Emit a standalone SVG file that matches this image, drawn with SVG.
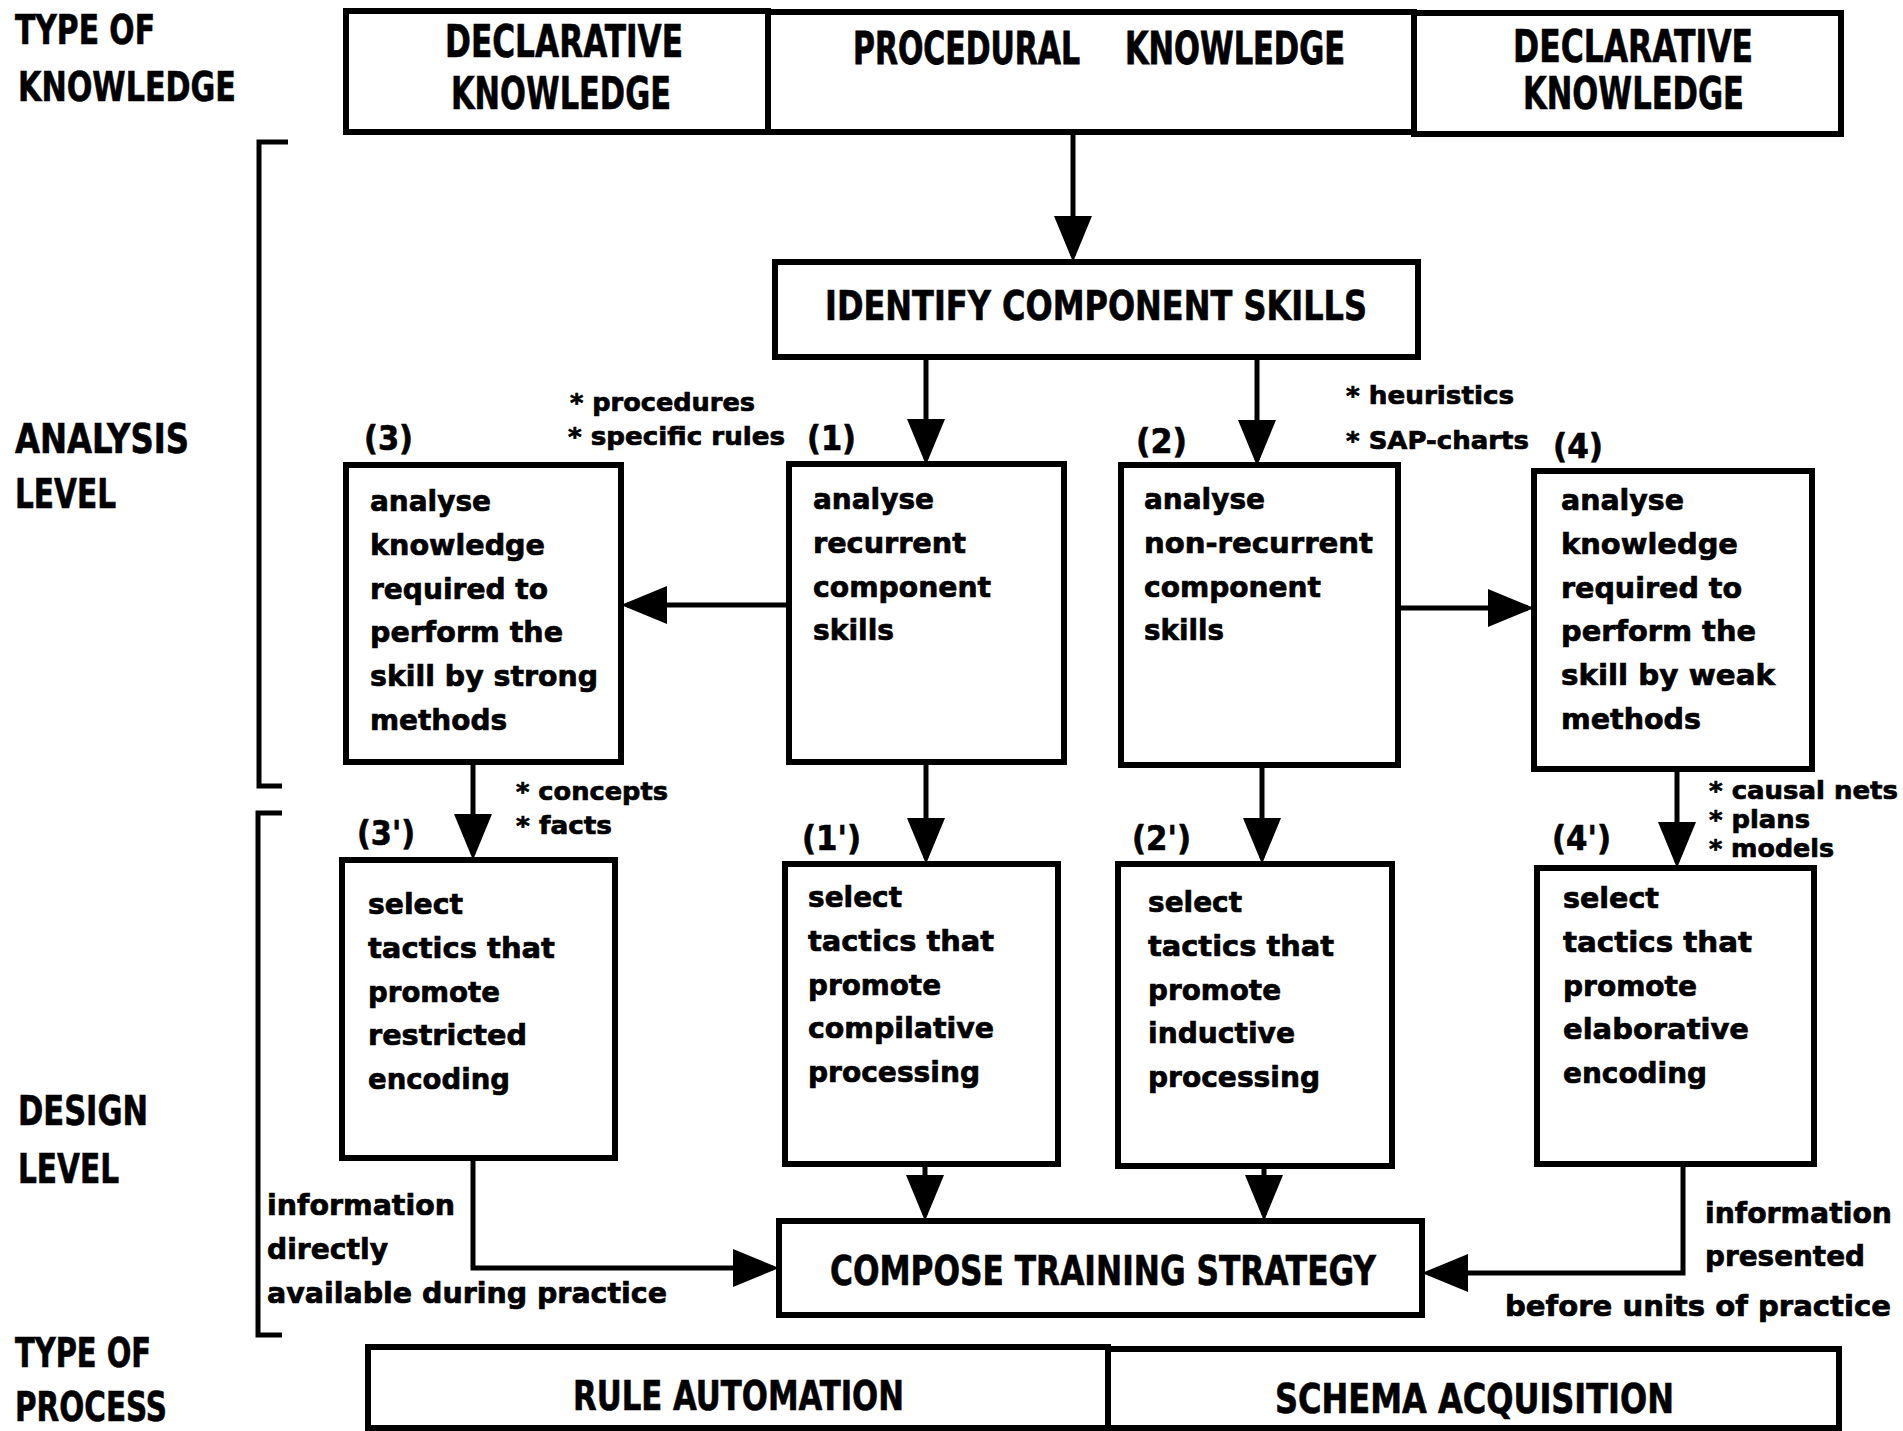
<svg xmlns="http://www.w3.org/2000/svg" width="1903" height="1431" viewBox="0 0 1903 1431">
<style>
.cap{font-family:"DejaVu Sans Condensed","DejaVu Sans","Liberation Sans",sans-serif;font-weight:bold;font-size:40px;fill:#000;stroke:#000;stroke-width:0.6}
.hdr{font-size:44px}
.hdr2{font-size:33px}
.par{font-size:34px}
.txt{font-family:"DejaVu Sans","Liberation Sans",sans-serif;font-weight:bold;font-size:29px;fill:#000;stroke:#000;stroke-width:0.7}
.lbl{font-size:25px}
.box{fill:#fff;stroke:#000;stroke-width:6}
.edge{fill:none;stroke:#000;stroke-width:5}
.brk{fill:none;stroke:#000;stroke-width:5}
</style>
<defs>
<marker id="ah" viewBox="0 0 46 38" markerWidth="46" markerHeight="38" markerUnits="userSpaceOnUse" refX="40" refY="19" orient="auto">
<path d="M0,0 L46,19 L0,38 Z" fill="#000"/>
</marker>
</defs>
<rect width="1903" height="1431" fill="#fff"/>

<g id="side-labels">
<text class="cap" x="15" y="44" textLength="140" lengthAdjust="spacingAndGlyphs">TYPE OF</text>
<text class="cap" x="18" y="101" textLength="218" lengthAdjust="spacingAndGlyphs">KNOWLEDGE</text>
<text class="cap" x="15" y="453" textLength="174" lengthAdjust="spacingAndGlyphs">ANALYSIS</text>
<text class="cap" x="15" y="508" textLength="101" lengthAdjust="spacingAndGlyphs">LEVEL</text>
<text class="cap" x="18" y="1125" textLength="130" lengthAdjust="spacingAndGlyphs">DESIGN</text>
<text class="cap" x="18" y="1183" textLength="101" lengthAdjust="spacingAndGlyphs">LEVEL</text>
<text class="cap" x="15" y="1367" textLength="136" lengthAdjust="spacingAndGlyphs">TYPE OF</text>
<text class="cap" x="15" y="1421" textLength="152" lengthAdjust="spacingAndGlyphs">PROCESS</text>
</g>

<g id="brackets">
<path class="brk" d="M288,142 H259 V786 H282"/>
<path class="brk" d="M282,813 H258 V1335 H282"/>
</g>

<g id="hdr-declarative-left">
<rect class="box" x="346" y="11" width="422" height="121"/>
<text class="cap hdr" x="445" y="57" textLength="238" lengthAdjust="spacingAndGlyphs">DECLARATIVE</text>
<text class="cap hdr" x="451" y="109" textLength="220" lengthAdjust="spacingAndGlyphs">KNOWLEDGE</text>
</g>
<g id="hdr-procedural">
<rect class="box" x="768" y="12" width="646" height="120"/>
<text class="cap hdr2" transform="translate(853,64) scale(1,1.33)" x="0" y="0" textLength="227" lengthAdjust="spacingAndGlyphs">PROCEDURAL</text>
<text class="cap hdr2" transform="translate(1125,64) scale(1,1.33)" x="0" y="0" textLength="220" lengthAdjust="spacingAndGlyphs">KNOWLEDGE</text>
</g>
<g id="hdr-declarative-right">
<rect class="box" x="1414" y="13" width="427" height="121"/>
<text class="cap hdr" x="1513" y="62" textLength="240" lengthAdjust="spacingAndGlyphs">DECLARATIVE</text>
<text class="cap hdr" x="1523" y="109" textLength="221" lengthAdjust="spacingAndGlyphs">KNOWLEDGE</text>
</g>

<g id="identify">
<rect class="box" x="775" y="262" width="643" height="95"/>
<text class="cap" x="825" y="320" textLength="542" lengthAdjust="spacingAndGlyphs">IDENTIFY COMPONENT SKILLS</text>
</g>

<g id="node3">
<rect class="box" x="346" y="465" width="275" height="297"/>
<text class="txt" x="370" y="511" textLength="121" lengthAdjust="spacingAndGlyphs">analyse</text>
<text class="txt" x="370" y="555" textLength="175" lengthAdjust="spacingAndGlyphs">knowledge</text>
<text class="txt" x="370" y="599" textLength="178" lengthAdjust="spacingAndGlyphs">required to</text>
<text class="txt" x="370" y="642" textLength="193" lengthAdjust="spacingAndGlyphs">perform the</text>
<text class="txt" x="370" y="686" textLength="228" lengthAdjust="spacingAndGlyphs">skill by strong</text>
<text class="txt" x="370" y="730" textLength="137" lengthAdjust="spacingAndGlyphs">methods</text>
</g>
<g id="node1">
<rect class="box" x="789" y="464" width="275" height="298"/>
<text class="txt" x="813" y="509" textLength="121" lengthAdjust="spacingAndGlyphs">analyse</text>
<text class="txt" x="813" y="553" textLength="153" lengthAdjust="spacingAndGlyphs">recurrent</text>
<text class="txt" x="813" y="597" textLength="178" lengthAdjust="spacingAndGlyphs">component</text>
<text class="txt" x="813" y="640" textLength="81" lengthAdjust="spacingAndGlyphs">skills</text>
</g>
<g id="node2">
<rect class="box" x="1121" y="465" width="277" height="300"/>
<text class="txt" x="1144" y="509" textLength="121" lengthAdjust="spacingAndGlyphs">analyse</text>
<text class="txt" x="1144" y="553" textLength="229" lengthAdjust="spacingAndGlyphs">non-recurrent</text>
<text class="txt" x="1144" y="597" textLength="177" lengthAdjust="spacingAndGlyphs">component</text>
<text class="txt" x="1144" y="640" textLength="80" lengthAdjust="spacingAndGlyphs">skills</text>
</g>
<g id="node4">
<rect class="box" x="1534" y="471" width="278" height="298"/>
<text class="txt" x="1561" y="510" textLength="123" lengthAdjust="spacingAndGlyphs">analyse</text>
<text class="txt" x="1561" y="554" textLength="177" lengthAdjust="spacingAndGlyphs">knowledge</text>
<text class="txt" x="1561" y="598" textLength="181" lengthAdjust="spacingAndGlyphs">required to</text>
<text class="txt" x="1561" y="641" textLength="195" lengthAdjust="spacingAndGlyphs">perform the</text>
<text class="txt" x="1561" y="685" textLength="214" lengthAdjust="spacingAndGlyphs">skill by weak</text>
<text class="txt" x="1561" y="729" textLength="140" lengthAdjust="spacingAndGlyphs">methods</text>
</g>

<g id="node3p">
<rect class="box" x="342" y="860" width="273" height="298"/>
<text class="txt" x="368" y="914" textLength="95" lengthAdjust="spacingAndGlyphs">select</text>
<text class="txt" x="368" y="958" textLength="187" lengthAdjust="spacingAndGlyphs">tactics that</text>
<text class="txt" x="368" y="1002" textLength="132" lengthAdjust="spacingAndGlyphs">promote</text>
<text class="txt" x="368" y="1045" textLength="159" lengthAdjust="spacingAndGlyphs">restricted</text>
<text class="txt" x="368" y="1089" textLength="142" lengthAdjust="spacingAndGlyphs">encoding</text>
</g>
<g id="node1p">
<rect class="box" x="785" y="864" width="273" height="300"/>
<text class="txt" x="808" y="907" textLength="94" lengthAdjust="spacingAndGlyphs">select</text>
<text class="txt" x="808" y="951" textLength="186" lengthAdjust="spacingAndGlyphs">tactics that</text>
<text class="txt" x="808" y="995" textLength="133" lengthAdjust="spacingAndGlyphs">promote</text>
<text class="txt" x="808" y="1038" textLength="186" lengthAdjust="spacingAndGlyphs">compilative</text>
<text class="txt" x="808" y="1082" textLength="172" lengthAdjust="spacingAndGlyphs">processing</text>
</g>
<g id="node2p">
<rect class="box" x="1118" y="864" width="274" height="302"/>
<text class="txt" x="1148" y="912" textLength="94" lengthAdjust="spacingAndGlyphs">select</text>
<text class="txt" x="1148" y="956" textLength="186" lengthAdjust="spacingAndGlyphs">tactics that</text>
<text class="txt" x="1148" y="1000" textLength="133" lengthAdjust="spacingAndGlyphs">promote</text>
<text class="txt" x="1148" y="1043" textLength="147" lengthAdjust="spacingAndGlyphs">inductive</text>
<text class="txt" x="1148" y="1087" textLength="172" lengthAdjust="spacingAndGlyphs">processing</text>
</g>
<g id="node4p">
<rect class="box" x="1537" y="868" width="277" height="296"/>
<text class="txt" x="1563" y="908" textLength="96" lengthAdjust="spacingAndGlyphs">select</text>
<text class="txt" x="1563" y="952" textLength="189" lengthAdjust="spacingAndGlyphs">tactics that</text>
<text class="txt" x="1563" y="996" textLength="134" lengthAdjust="spacingAndGlyphs">promote</text>
<text class="txt" x="1563" y="1039" textLength="186" lengthAdjust="spacingAndGlyphs">elaborative</text>
<text class="txt" x="1563" y="1083" textLength="144" lengthAdjust="spacingAndGlyphs">encoding</text>
</g>

<g id="compose">
<rect class="box" x="779" y="1221" width="643" height="94"/>
<text class="cap" x="830" y="1285" textLength="546" lengthAdjust="spacingAndGlyphs">COMPOSE TRAINING STRATEGY</text>
</g>

<g id="proc-rule">
<rect class="box" x="368" y="1347" width="740" height="81"/>
<text class="cap" x="573" y="1410" textLength="331" lengthAdjust="spacingAndGlyphs">RULE AUTOMATION</text>
</g>
<g id="proc-schema">
<rect class="box" x="1108" y="1349" width="731" height="79"/>
<text class="cap" x="1275" y="1413" textLength="399" lengthAdjust="spacingAndGlyphs">SCHEMA ACQUISITION</text>
</g>

<g id="connectors">
<path class="edge" marker-end="url(#ah)" d="M1073,132 V256"/>
<path class="edge" marker-end="url(#ah)" d="M926,357 V459"/>
<path class="edge" marker-end="url(#ah)" d="M1257,357 V460"/>
<path class="edge" marker-end="url(#ah)" d="M789,605 H627"/>
<path class="edge" marker-end="url(#ah)" d="M1398,608 H1528"/>
<path class="edge" marker-end="url(#ah)" d="M473,762 V854"/>
<path class="edge" marker-end="url(#ah)" d="M926,762 V858"/>
<path class="edge" marker-end="url(#ah)" d="M1262,765 V858"/>
<path class="edge" marker-end="url(#ah)" d="M1677,769 V862"/>
<path class="edge" marker-end="url(#ah)" d="M925,1164 V1215"/>
<path class="edge" marker-end="url(#ah)" d="M1264,1166 V1215"/>
<path class="edge" marker-end="url(#ah)" d="M473,1158 V1268 H773"/>
<path class="edge" marker-end="url(#ah)" d="M1683,1164 V1273 H1428"/>
</g>

<g id="edge-labels">
<text class="cap par" x="364" y="450" textLength="49" lengthAdjust="spacingAndGlyphs">(3)</text>
<text class="cap par" x="807" y="450" textLength="49" lengthAdjust="spacingAndGlyphs">(1)</text>
<text class="cap par" x="1136" y="453" textLength="51" lengthAdjust="spacingAndGlyphs">(2)</text>
<text class="cap par" x="1553" y="458" textLength="50" lengthAdjust="spacingAndGlyphs">(4)</text>
<text class="cap par" x="357" y="845" textLength="58" lengthAdjust="spacingAndGlyphs">(3')</text>
<text class="cap par" x="802" y="850" textLength="59" lengthAdjust="spacingAndGlyphs">(1')</text>
<text class="cap par" x="1132" y="850" textLength="59" lengthAdjust="spacingAndGlyphs">(2')</text>
<text class="cap par" x="1552" y="850" textLength="59" lengthAdjust="spacingAndGlyphs">(4')</text>
<text class="txt lbl" x="570" y="411" textLength="185" lengthAdjust="spacingAndGlyphs">* procedures</text>
<text class="txt lbl" x="568" y="445" textLength="217" lengthAdjust="spacingAndGlyphs">* specific rules</text>
<text class="txt lbl" x="1346" y="404" textLength="168" lengthAdjust="spacingAndGlyphs">* heuristics</text>
<text class="txt lbl" x="1346" y="449" textLength="183" lengthAdjust="spacingAndGlyphs">* SAP-charts</text>
<text class="txt lbl" x="516" y="800" textLength="152" lengthAdjust="spacingAndGlyphs">* concepts</text>
<text class="txt lbl" x="516" y="834" textLength="96" lengthAdjust="spacingAndGlyphs">* facts</text>
<text class="txt lbl" x="1709" y="799" textLength="189" lengthAdjust="spacingAndGlyphs">* causal nets</text>
<text class="txt lbl" x="1709" y="828" textLength="101" lengthAdjust="spacingAndGlyphs">* plans</text>
<text class="txt lbl" x="1709" y="857" textLength="125" lengthAdjust="spacingAndGlyphs">* models</text>
<text class="txt" x="267" y="1215" textLength="188" lengthAdjust="spacingAndGlyphs">information</text>
<text class="txt" x="267" y="1259" textLength="121" lengthAdjust="spacingAndGlyphs">directly</text>
<text class="txt" x="267" y="1303" textLength="400" lengthAdjust="spacingAndGlyphs">available during practice</text>
<text class="txt" x="1705" y="1223" textLength="187" lengthAdjust="spacingAndGlyphs">information</text>
<text class="txt" x="1705" y="1266" textLength="160" lengthAdjust="spacingAndGlyphs">presented</text>
<text class="txt" x="1505" y="1316" textLength="386" lengthAdjust="spacingAndGlyphs">before units of practice</text>
</g>
</svg>
